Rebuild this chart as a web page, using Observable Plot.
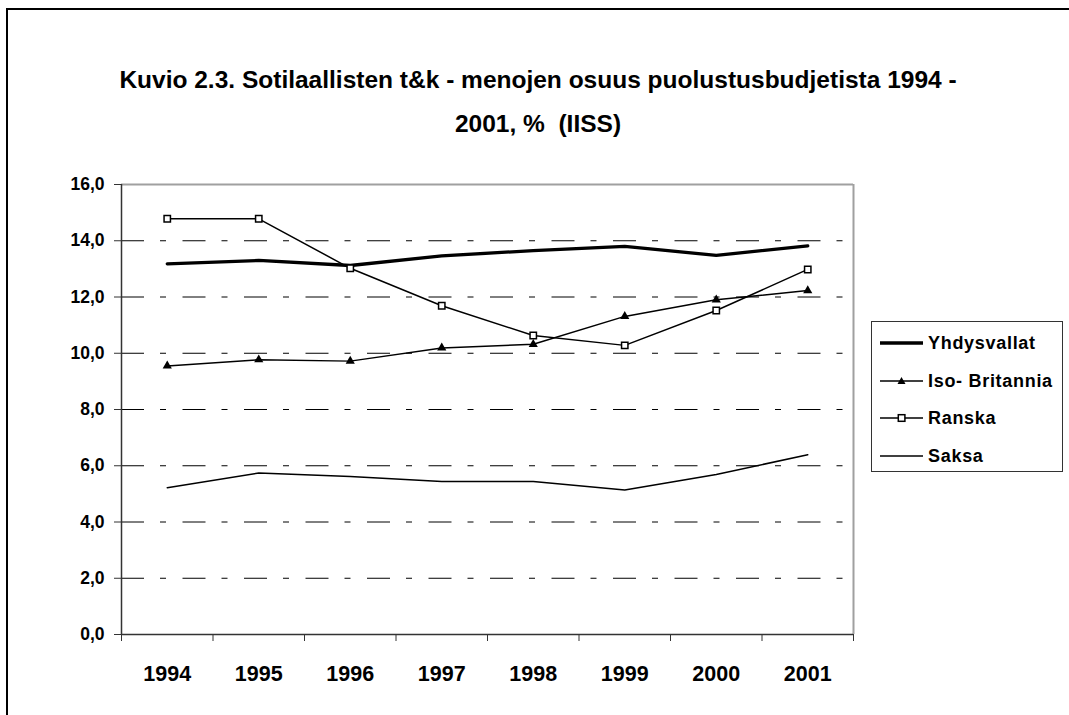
<!DOCTYPE html>
<html><head><meta charset="utf-8">
<script src="https://cdn.jsdelivr.net/npm/d3@7"></script>
<script src="https://cdn.jsdelivr.net/npm/@observablehq/plot@0.6"></script>
<style>
html,body{margin:0;padding:0;background:#fff;}
#wrap{position:relative;width:1069px;height:715px;overflow:hidden;font-family:"Liberation Sans",Arial,sans-serif;}
#frame{position:absolute;left:6px;top:8px;width:1200px;height:900px;border-top:2px solid #000;border-left:2px solid #000;}
#title{position:absolute;left:0;width:1076px;top:58px;text-align:center;font-weight:bold;font-size:24.5px;line-height:44px;color:#000;}
#chart{position:absolute;left:0;top:0;}
#legend{position:absolute;left:871px;top:321px;width:192px;height:151px;border:1px solid #333;box-sizing:border-box;background:#fff;}
.row{position:absolute;left:0;height:20px;line-height:20px;font-size:18px;font-weight:bold;letter-spacing:0.7px;white-space:nowrap;}
.row svg{position:absolute;left:8px;top:0;}
.row span{position:absolute;left:56px;top:0;}
</style>
</head><body>
<div id="wrap">
  <div id="frame"></div>
  <div id="chart"></div>
  <div id="title">Kuvio 2.3. Sotilaallisten t&amp;k - menojen osuus puolustusbudjetista 1994 -<br>2001, % &nbsp;(IISS)</div>
  <div id="legend"></div>
</div>
<script>
const years = [1994, 1995, 1996, 1997, 1998, 1999, 2000, 2001];
const seriesNames = ["Yhdysvallat", "Iso- Britannia", "Ranska", "Saksa"];
const yhdysvallat = [13.18, 13.30, 13.12, 13.46, 13.65, 13.80, 13.48, 13.82];
const isoBritannia = [9.55, 9.77, 9.72, 10.19, 10.32, 11.31, 11.90, 12.23];
const ranska = [14.78, 14.78, 13.02, 11.69, 10.63, 10.28, 11.52, 12.98];
const saksa = [5.22, 5.74, 5.62, 5.44, 5.44, 5.14, 5.69, 6.39];
const yTicks = [0, 2, 4, 6, 8, 10, 12, 14, 16];
const gridValues = [2, 4, 6, 8, 10, 12, 14];

const toRows = arr => years.map((yr, i) => ({year: yr, value: arr[i]}));
const us = toRows(yhdysvallat), ib = toRows(isoBritannia), fr = toRows(ranska), de = toRows(saksa);
const boundaries = [...years.map(y => y - 0.5), years[years.length - 1] + 0.5];
const xDomain = [boundaries[0], boundaries[boundaries.length - 1]];

const chart = Plot.plot({
  width: 1069, height: 715,
  marginLeft: 121, marginRight: 216, marginTop: 184, marginBottom: 81,
  x: {type: "linear", domain: xDomain},
  y: {domain: [0, 16]},
  style: {fontFamily: "'Liberation Sans', Arial, sans-serif", background: "transparent", color: "#000"},
  marks: [
    Plot.ruleY(gridValues, {stroke: "#000", strokeWidth: 1, strokeDasharray: "23,16,6,16.5"}),
    Plot.ruleY([16], {stroke: "#a0a0a0", strokeWidth: 2}),
    Plot.ruleX([xDomain[1]], {stroke: "#a0a0a0", strokeWidth: 2}),
    Plot.axisY({ticks: yTicks, tickSize: 7, tickPadding: 10, tickFormat: d => d.toFixed(1).replace(".", ","), fontSize: 17.5, fontWeight: "bold", label: null, stroke: "#333"}),
    Plot.axisX({ticks: boundaries, tickSize: 7, tickFormat: () => "", label: null, stroke: "#333"}),
    Plot.axisX({ticks: years, tickSize: 0, tickPadding: 31, tickFormat: d => String(d), fontSize: 21.5, fontWeight: "bold", label: null}),
    Plot.ruleX([xDomain[0]], {stroke: "#333", strokeWidth: 1.5}),
    Plot.ruleY([0], {stroke: "#333", strokeWidth: 1.5}),
    Plot.line(de, {x: "year", y: "value", stroke: "#000", strokeWidth: 1.5}),
    Plot.line(ib, {x: "year", y: "value", stroke: "#000", strokeWidth: 1.5}),
    Plot.dot(ib, {x: "year", y: "value", symbol: "triangle", fill: "#000", r: 3.4}),
    Plot.line(us, {x: "year", y: "value", stroke: "#000", strokeWidth: 3.3}),
    Plot.line(fr, {x: "year", y: "value", stroke: "#000", strokeWidth: 1.5}),
    Plot.dot(fr, {x: "year", y: "value", symbol: "square", fill: "#fff", stroke: "#000", strokeWidth: 1.5, r: 3.6})
  ]
});
document.getElementById("chart").appendChild(chart);

// legend
const legendStyles = [
  {w: 3.3, marker: null},
  {w: 1.5, marker: "triangle"},
  {w: 1.5, marker: "square"},
  {w: 1.5, marker: null}
];
const rowCenters = [20.5, 58.5, 96, 133.5];
const legend = document.getElementById("legend");
seriesNames.forEach((name, i) => {
  const row = document.createElement("div");
  row.className = "row";
  row.style.top = (rowCenters[i] - 10) + "px";
  const st = legendStyles[i];
  let mk = "";
  if (st.marker === "triangle") mk = '<path d="M21.5,6 L25.5,13 L17.5,13 Z" fill="#000"/>';
  if (st.marker === "square") mk = '<rect x="18.3" y="6.7" width="6.6" height="6.6" fill="#fff" stroke="#000" stroke-width="1.5"/>';
  row.innerHTML = `<svg width="44" height="20"><line x1="0" x2="43" y1="10" y2="10" stroke="#000" stroke-width="${st.w}"/>${mk}</svg><span>${name}</span>`;
  legend.appendChild(row);
});
</script>
</body></html>
